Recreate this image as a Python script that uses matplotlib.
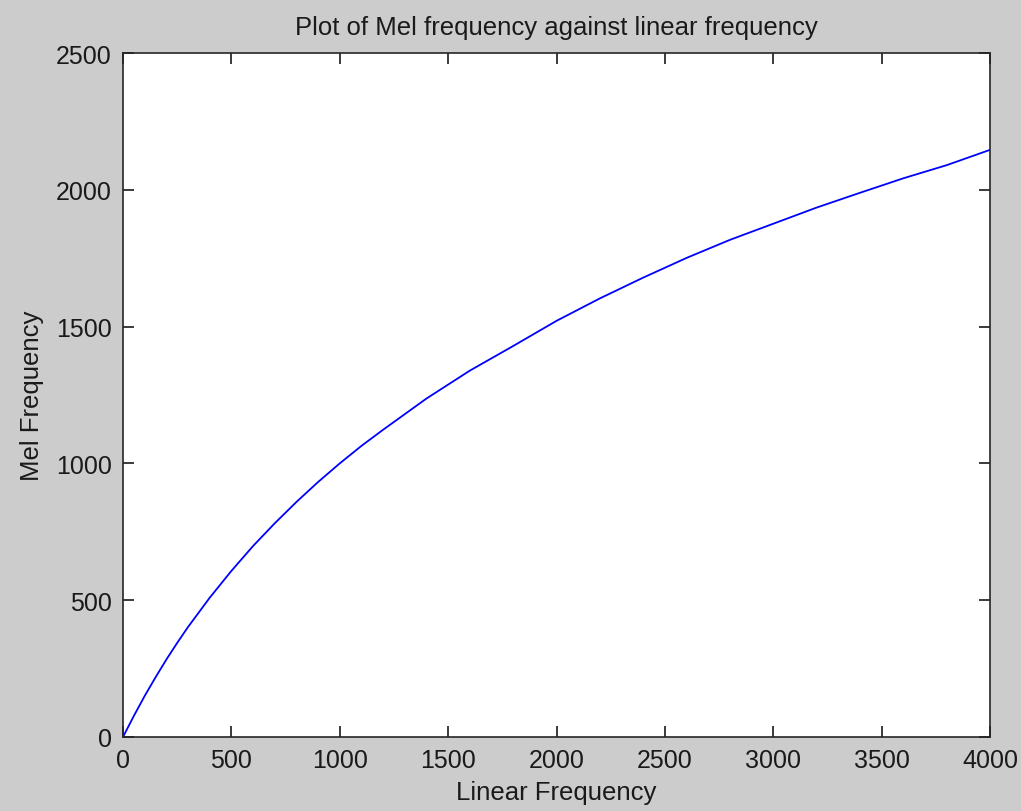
import matplotlib
matplotlib.use("Agg")
import matplotlib.pyplot as plt

# Mel frequency
linear_freq = [0, 50, 100, 150, 200, 250, 300, 400, 500, 600, 700, 800, 900, 1000,
               1100, 1200, 1400, 1600, 1800, 2000, 2200, 2400, 2600, 2800, 3000,
               3200, 3400, 3600, 3800, 4000]
mel_freq = [0, 77, 150, 218, 283, 344, 402, 509, 607, 698, 781, 859, 932, 1000,
            1064, 1123, 1237, 1339, 1429, 1521, 1603, 1679, 1751, 1817, 1876,
            1935, 1989, 2042, 2090, 2146]

x_ticks = [0, 500, 1000, 1500, 2000, 2500, 3000, 3500, 4000]
y_ticks = [0, 500, 1000, 1500, 2000, 2500]

plt.rcParams['font.family'] = ['Liberation Sans', 'DejaVu Sans']

fig = plt.figure(figsize=(10.21, 8.12), dpi=100, facecolor='#cccccc')
ax = fig.add_axes([123 / 1021, 1 - 738 / 812, 867 / 1021, 684 / 812])

ax.plot(linear_freq, mel_freq, color='#0000ff', linewidth=1.3)

ax.set_xlim(0, 4000)
ax.set_ylim(0, 2500)
ax.set_xticks(x_ticks)
ax.set_yticks(y_ticks)
ax.tick_params(direction='in', length=8, width=1.2, top=True, right=True,
               labelsize=18, colors='#1a1a1a')
ax.tick_params(axis='x', pad=8)
ax.tick_params(axis='y', pad=8)
for spine in ax.spines.values():
    spine.set_linewidth(1.2)
    spine.set_color('#262626')

ax.set_title('Plot of Mel frequency against linear frequency', fontsize=18.5, pad=14,
             color='#1a1a1a')
ax.set_xlabel('Linear Frequency', fontsize=18.5, labelpad=6, color='#1a1a1a')
ax.set_ylabel('Mel Frequency', fontsize=18.5, labelpad=9, color='#1a1a1a')

fig.savefig('out.png', dpi=100, facecolor=fig.get_facecolor())
